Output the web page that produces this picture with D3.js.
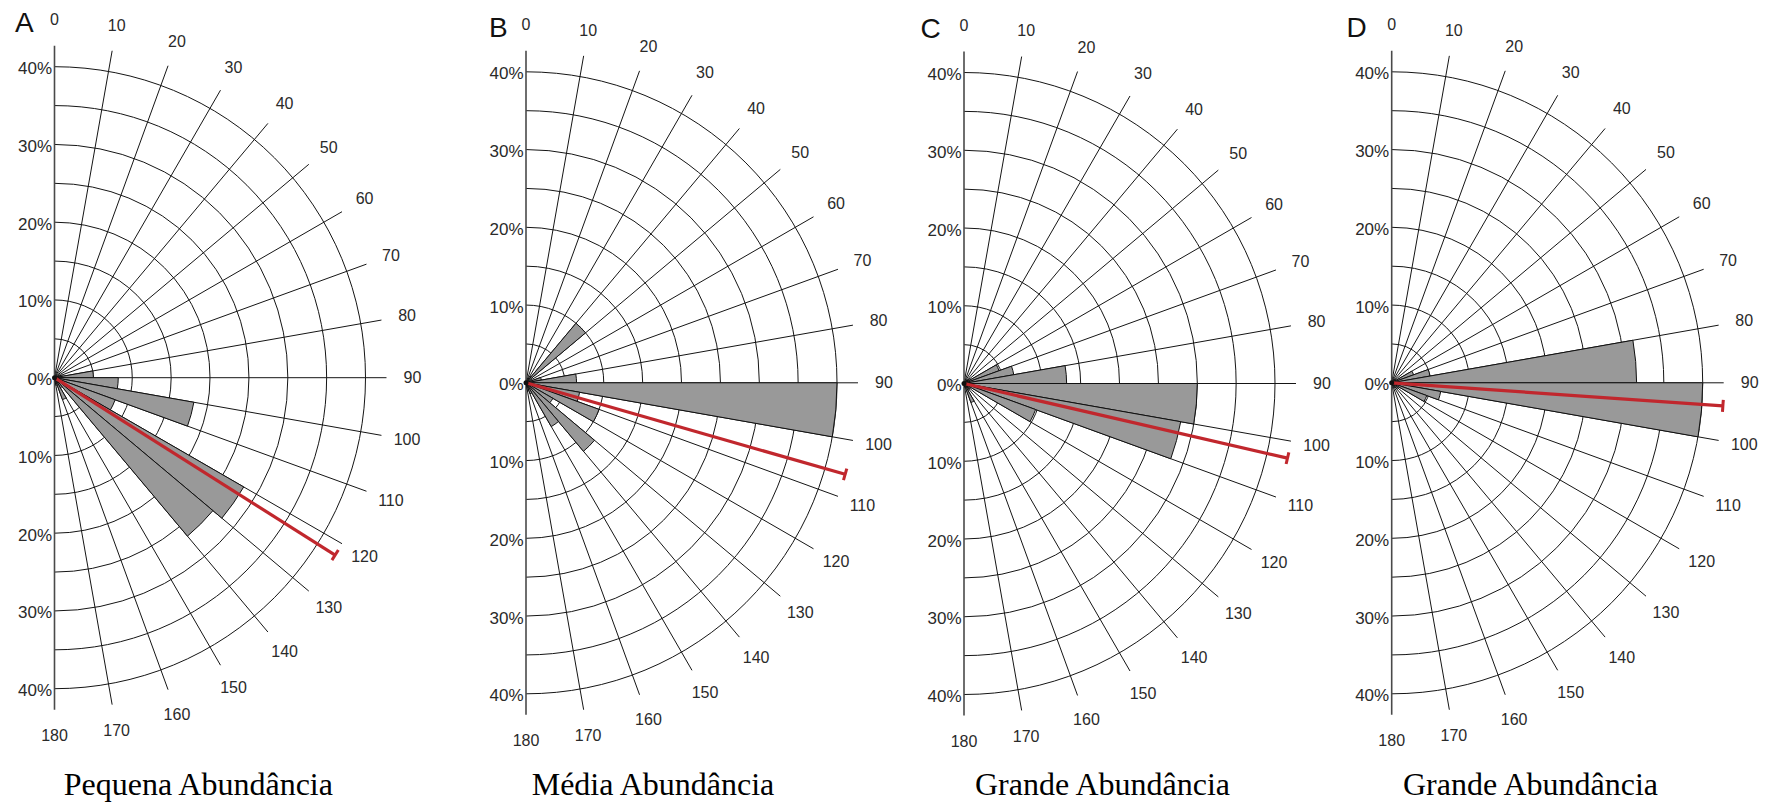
<!DOCTYPE html>
<html><head><meta charset="utf-8">
<script src="https://cdn.jsdelivr.net/npm/d3@7"></script>
<style>html,body{margin:0;padding:0;background:#fff;} svg{display:block;}</style>
</head><body>
<svg id="chart" width="1769" height="805"></svg>
<script>
// ---------- DATA ----------
const panelIds = ["A", "B", "C", "D"];
const panelTitles = ["Pequena Abundância", "Média Abundância", "Grande Abundância", "Grande Abundância"];
const binStarts = [0, 10, 20, 30, 40, 50, 60, 70, 80, 90, 100, 110, 120, 130, 140, 150, 160, 170];
const freqA = [0, 0, 0, 0, 0, 0, 0, 1, 5, 8.2, 18.2, 8.3, 28.1, 26.6, 1.5, 3, 1, 0];
const freqB = [0, 0, 0, 1, 10, 0, 0, 2, 6.5, 40, 7, 10, 4, 11.5, 6.5, 1.5, 1, 0];
const freqC = [0, 0, 0, 0, 0, 1, 4.8, 6.5, 13.2, 30, 28.3, 9.8, 1, 1, 1, 2.6, 0.5, 0];
const freqD = [0, 0, 0, 0, 0, 0, 3, 5, 31.5, 40, 6.4, 4.8, 1, 1, 0.5, 0.5, 0, 0];
const meanAngles = [122.3, 106, 103, 94];
const angleTicks = [0, 10, 20, 30, 40, 50, 60, 70, 80, 90, 100, 110, 120, 130, 140, 150, 160, 170, 180];
const ringValues = [5, 10, 15, 20, 25, 30, 35, 40];
const pctTicks = [0, 10, 20, 30, 40];
const axisExtent = 42.7;   // % reached by the spokes and the mean-direction line
const binWidth = 10;

const freqs = [freqA, freqB, freqC, freqD];

// ---------- LAYOUT ----------
const layout = [
  {cx: 54.5,   cy: 377.7, letterX: 15,    letterY: 32,   titleX: 198.3},
  {cx: 526,    cy: 382.8, letterX: 489,   letterY: 36.5, titleX: 653},
  {cx: 964,    cy: 383.5, letterX: 920.5, letterY: 37.5, titleX: 1102.5},
  {cx: 1391.7, cy: 382.8, letterX: 1346.5,letterY: 36.5, titleX: 1530.5}
];
const R40 = 311;
const titleBaseline = 795;

const svg = d3.select("#chart");
svg.append("rect").attr("width", 1769).attr("height", 805).attr("fill", "#fff");

const rScale = d3.scaleLinear().domain([0, 40]).range([0, R40]);
const aScale = d3.scaleLinear().domain([0, 180]).range([0, Math.PI]);
const pt = (deg, v) => [Math.sin(aScale(deg)) * rScale(v), -Math.cos(aScale(deg)) * rScale(v)];

const gridColor = "#151515";
const textColor = "#2a2a2a";

panelIds.forEach((id, i) => {
  const L = layout[i];
  const g = svg.append("g").attr("transform", `translate(${L.cx},${L.cy})`);

  // rings
  g.append("g").selectAll("path").data(ringValues).join("path")
    .attr("d", v => {
      const p = d3.path();
      p.arc(0, 0, rScale(v), -Math.PI / 2, Math.PI / 2, false);
      return p.toString();
    })
    .attr("fill", "none").attr("stroke", gridColor).attr("stroke-width", 1);

  // spokes
  g.append("g").selectAll("line").data(angleTicks.filter(a => a > 0 && a < 180)).join("line")
    .attr("x1", 0).attr("y1", 0)
    .attr("x2", a => pt(a, axisExtent)[0]).attr("y2", a => pt(a, axisExtent)[1])
    .attr("stroke", gridColor).attr("stroke-width", 1);

  // vertical axis (0 - 180)
  g.append("line")
    .attr("x1", 0).attr("y1", pt(0, axisExtent)[1])
    .attr("x2", 0).attr("y2", pt(180, axisExtent)[1])
    .attr("stroke", "#4a4a4a").attr("stroke-width", 1.6);

  // wedges
  const arc = d3.arc().innerRadius(0)
    .outerRadius(d => rScale(d.v))
    .startAngle(d => aScale(d.a))
    .endAngle(d => aScale(d.a + binWidth));
  const bins = binStarts.map((a, k) => ({a: a, v: freqs[i][k]})).filter(d => d.v > 0);
  g.append("g").selectAll("path").data(bins).join("path")
    .attr("d", arc)
    .attr("fill", "#999999").attr("stroke", "#111").attr("stroke-width", 1)
    .attr("stroke-linejoin", "miter");

  // mean direction line with end cap
  const m = meanAngles[i];
  const end = pt(m, axisExtent);
  g.append("line").attr("x1", 0).attr("y1", 0).attr("x2", end[0]).attr("y2", end[1])
    .attr("stroke", "#c1272d").attr("stroke-width", 3.2);
  const ux = Math.cos(aScale(m)), uy = Math.sin(aScale(m)); // perpendicular to the line
  g.append("line")
    .attr("x1", end[0] - ux * 6).attr("y1", end[1] - uy * 6)
    .attr("x2", end[0] + ux * 6).attr("y2", end[1] + uy * 6)
    .attr("stroke", "#c1272d").attr("stroke-width", 3);
  g.append("circle").attr("r", 2.5).attr("fill", "#111");

  // angle labels
  g.append("g").selectAll("text").data(angleTicks).join("text")
    .attr("x", a => Math.sin(aScale(a)) * 358)
    .attr("y", a => -Math.cos(aScale(a)) * 358)
    .attr("text-anchor", "middle").attr("dominant-baseline", "central")
    .attr("font-family", "Liberation Sans, Arial, sans-serif").attr("font-size", 16)
    .attr("fill", textColor)
    .text(a => a);

  // percent labels along the vertical axis
  const pctData = pctTicks.map(v => ({v: v, y: -rScale(v)}))
    .concat(pctTicks.filter(v => v > 0).map(v => ({v: v, y: rScale(v)})));
  g.append("g").selectAll("text").data(pctData).join("text")
    .attr("x", -2.5).attr("y", d => d.y + 2)
    .attr("text-anchor", "end").attr("dominant-baseline", "central")
    .attr("font-family", "Liberation Sans, Arial, sans-serif").attr("font-size", 17)
    .attr("fill", textColor)
    .text(d => d.v + "%");

  // panel letter
  svg.append("text").attr("x", L.letterX).attr("y", L.letterY)
    .attr("font-family", "Liberation Sans, Arial, sans-serif").attr("font-size", 28)
    .attr("fill", "#111").text(id);

  // subtitle
  svg.append("text").attr("x", L.titleX).attr("y", titleBaseline)
    .attr("text-anchor", "middle")
    .attr("font-family", "Liberation Serif, Times New Roman, serif").attr("font-size", 32)
    .attr("fill", "#000").text(panelTitles[i]);
});
</script>
</body></html>
